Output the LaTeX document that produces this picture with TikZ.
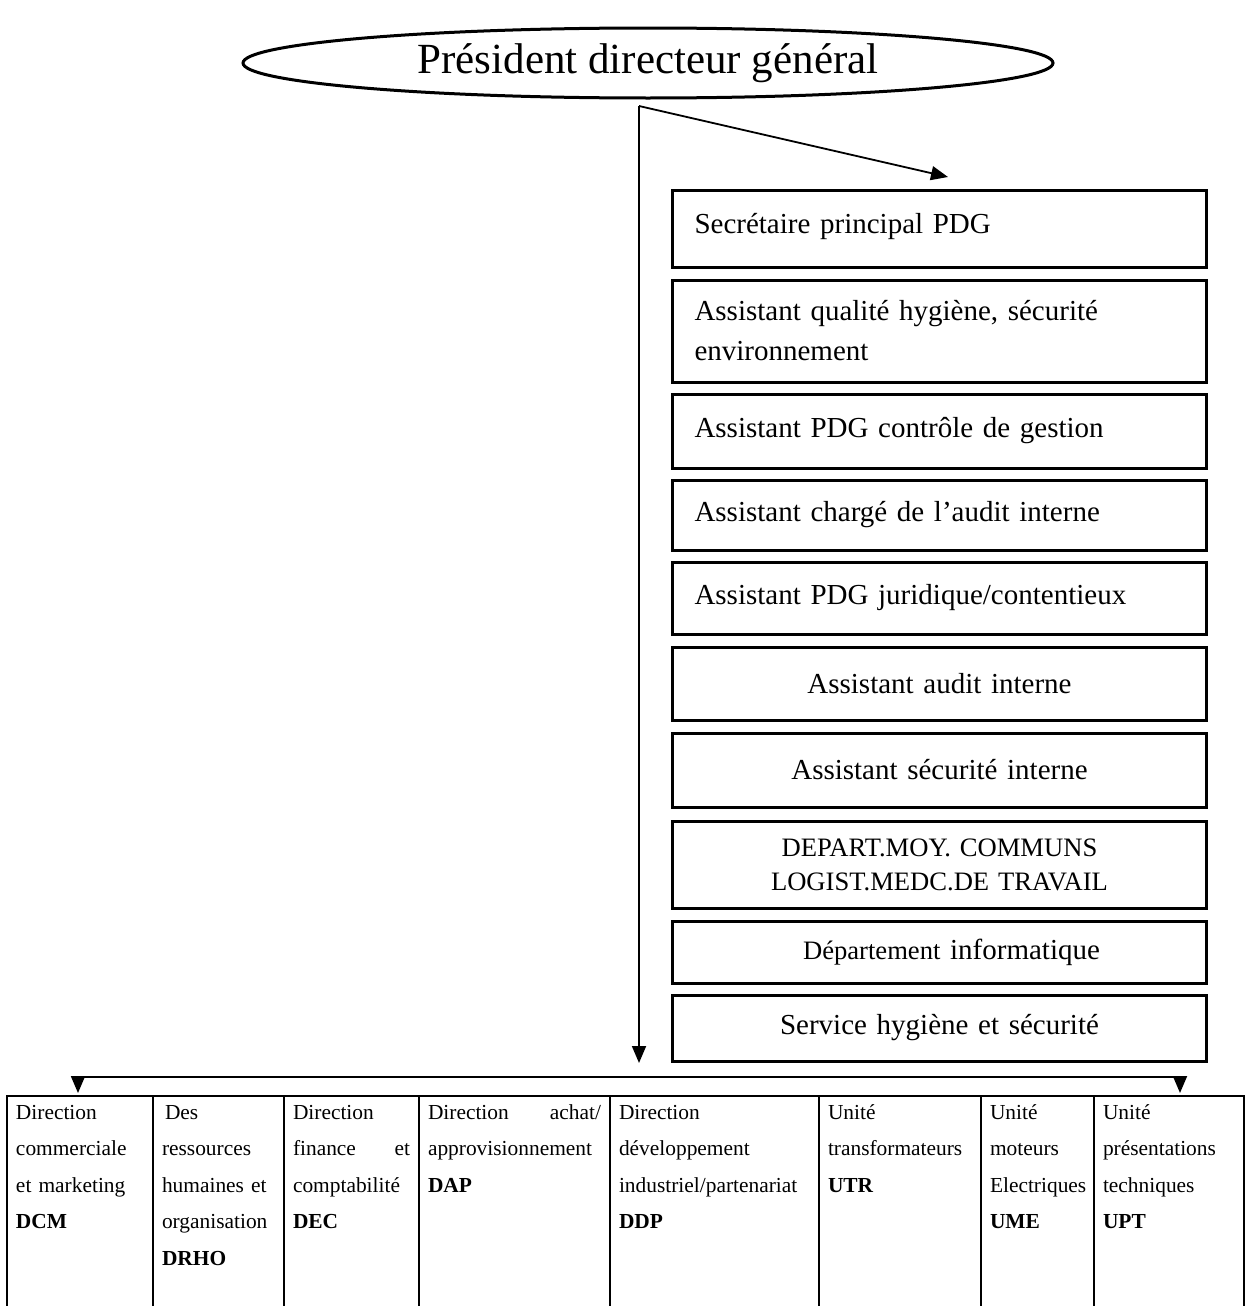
\documentclass[tikz,border=0pt]{standalone}
\usepackage{fontspec}
\setmainfont{Liberation Serif}
\usetikzlibrary{arrows.meta,positioning,shapes.geometric}
\tikzset{
  headbox/.style={
    ellipse,
    draw,
    line width=1.5pt,
    minimum width=405pt,
    minimum height=35pt,
    inner sep=0pt,
    font=\fontsize{21.5}{26}\selectfont
  },
  rolebox/.style={
    draw,
    line width=1.5pt,
    minimum height=#1,
    inner xsep=11pt,
    inner ysep=0pt,
    text width=245pt,
    align=left,
    font=\fontsize{14.5}{20}\selectfont
  },
  rolecbox/.style={
    rolebox=#1,
    align=center
  },
  colbox/.style={
    draw,
    line width=1pt,
    anchor=north west,
    inner xsep=4.5pt,
    inner ysep=0pt,
    text width=#1,
    align=left,
    text height=11.5pt,
    text depth=94pt,
    font=\fontsize{10.7}{18.25}\selectfont
  },
  link/.style={
    -{Triangle[length=8.5pt,width=7pt]},
    line width=0.9pt
  },
  bus/.style={
    line width=0.9pt
  }
}

\begin{document}
\begin{tikzpicture}[x=0.5pt,y=-0.5pt]
\useasboundingbox (0,0) rectangle (1245,1306);

\node[headbox] (pdg) at (648,63) {Président directeur général};

\coordinate (split) at (639,106);
\coordinate (drop) at (639,1063);
\coordinate (aim) at (948,177);

\node[rolebox=38.5pt] (sec) at (939.5,228.5) {\raisebox{5pt}{Secrétaire principal PDG}};
\node[rolebox=51pt] (qhse) at (939.5,331) {Assistant qualité hygiène, sécurité\\environnement};
\node[rolebox=37pt] (cdg) at (939.5,431) {Assistant PDG contrôle de gestion};
\node[rolebox=35pt] (audit) at (939.5,515) {Assistant chargé de l’audit interne};
\node[rolebox=36pt] (jur) at (939.5,598) {Assistant PDG juridique/contentieux};
\node[rolecbox=36.5pt] (aud) at (939.5,683.5) {Assistant audit interne};
\node[rolecbox=37pt] (secu) at (939.5,770) {Assistant sécurité interne};
\node[rolecbox=43.5pt, font=\fontsize{13.3}{17}\selectfont] (moy) at (939.5,864.5) {DEPART.MOY. COMMUNS\\LOGIST.MEDC.DE TRAVAIL};
\node[rolecbox=31pt] (info) at (939.5,952) {\hspace{12pt}{\fontsize{13.3}{17}\selectfont Département} informatique};
\node[rolecbox=33pt] (hyg) at (939.5,1028) {Service hygiène et sécurité};

\node[colbox=64pt] (dcm) at (6,1095) {Direction\\commerciale\\et marketing\\\textbf{DCM}};
\node[colbox=56.5pt] (drho) at (152,1095) {\hspace{1.5pt}Des\\ressources\\humaines et\\organisation\\\textbf{DRHO}};
\node[colbox=58.5pt] (dec) at (283,1095) {Direction\\finance\hfill et\\comptabilité\\\textbf{DEC}};
\node[colbox=86.5pt] (dap) at (418,1095) {Direction\hfill achat/\\approvisionnement\\\textbf{DAP}};
\node[colbox=95.5pt] (ddp) at (609,1095) {Direction\\développement\\industriel/partenariat\\\textbf{DDP}};
\node[colbox=72pt] (utr) at (818,1095) {Unité\\transformateurs\\\textbf{UTR}};
\node[colbox=47.5pt] (ume) at (980,1095) {Unité\\moteurs\\Electriques\\\textbf{UME}};
\node[colbox=66pt] (upt) at (1093,1095) {Unité\\présentations\\techniques\\\textbf{UPT}};

\coordinate (busL) at (78,1077);
\coordinate (busR) at (1180,1077);

\draw[link] (split) -- (drop);
\draw[link] (split) -- (aim);
\draw[bus] (busL) -- (busR);
\draw[link, shorten >=1pt] (busL) -- (busL |- dcm.north);
\draw[link, shorten >=1pt] (busR) -- (busR |- upt.north);

\end{tikzpicture}
\end{document}
